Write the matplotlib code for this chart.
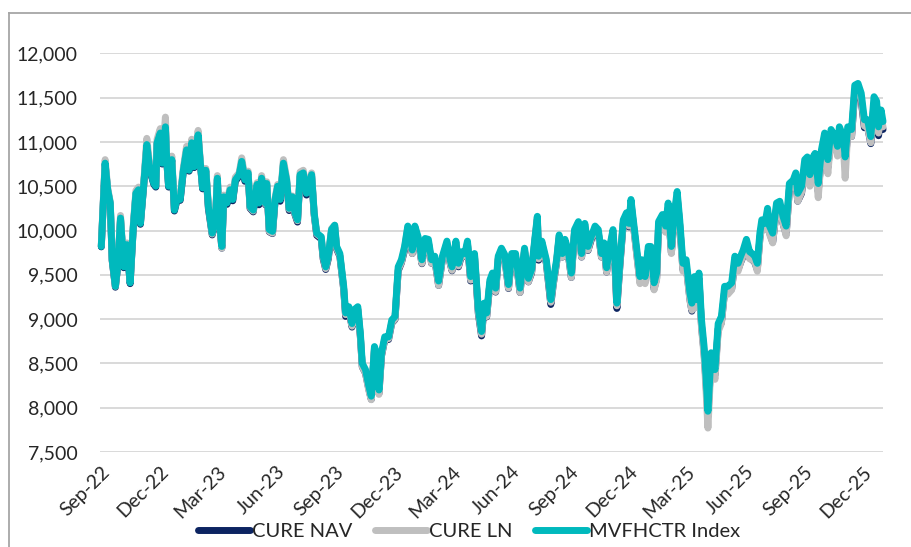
import pandas as pd
import matplotlib
matplotlib.use("Agg")
import matplotlib.pyplot as plt
import matplotlib.dates as mdates
from matplotlib.ticker import FuncFormatter, MultipleLocator
from matplotlib.lines import Line2D

plt.rcParams['font.family'] = ['Lato', 'DejaVu Sans']

days = [0, 6, 10, 14, 17, 22, 26, 30, 35, 40,
        45, 50, 54, 58, 61, 66, 71, 76, 82, 85,
        87, 92, 95, 100, 102, 105, 110, 114, 118, 123,
        128, 133, 137, 141, 145, 151, 154, 158, 163, 167,
        173, 178, 181, 184, 188, 191, 196, 201, 205, 209,
        215, 219, 224, 229, 232, 237, 243, 246, 250, 256,
        258, 262, 267, 271, 275, 279, 284, 289, 293, 298,
        302, 306, 310, 315, 320, 328, 332, 336, 343, 346,
        350, 354, 359, 364, 367, 372, 378, 381, 386, 391,
        395, 400, 404, 407, 412, 417, 421, 426, 429, 433,
        437, 442, 448, 453, 458, 463, 468, 473, 478, 481,
        485, 489, 494, 500, 505, 510, 515, 520, 526, 532,
        539, 544, 547, 553, 557, 562, 567, 571, 576, 582,
        588, 593, 597, 601, 606, 610, 615, 619, 624, 629,
        635, 640, 646, 653, 660, 666, 671, 676, 680, 682,
        687, 694, 701, 705, 710, 714, 719, 723, 728, 733,
        738, 744, 749, 754, 759, 764, 770, 775, 780, 784,
        788, 793, 798, 801, 804, 809, 814, 819, 823, 826,
        829, 840, 843, 848, 853, 857, 862, 866, 869, 875,
        880, 884, 889, 893, 898, 902, 907, 912, 918, 921,
        925, 928, 932, 936, 940, 943, 946, 951, 957, 962,
        967, 972, 977, 983, 988, 993, 997, 1001, 1006, 1011,
        1015, 1019, 1023, 1027, 1030, 1035, 1039, 1042, 1047, 1053,
        1058, 1063, 1068, 1073, 1079, 1083, 1086, 1092, 1097, 1101,
        1105, 1110, 1113, 1118, 1123, 1128, 1133, 1138, 1144, 1148,
        1151, 1157, 1160, 1164, 1170, 1175, 1180, 1185, 1190, 1195,
        1200, 1205, 1209, 1212, 1216, 1219]

index_vals = [9820, 10760, 10460, 10310, 9670, 9370, 9630, 10140, 9590, 9840,
              9410, 10050, 10420, 10460, 10080, 10500, 10970, 10680, 10530, 10500,
              10990, 11100, 10760, 11170, 10800, 10500, 10800, 10230, 10350, 10350,
              10680, 10910, 10680, 10990, 10720, 11080, 10800, 10480, 10680, 10270,
              9970, 10120, 10590, 10120, 9820, 10380, 10310, 10460, 10350, 10570,
              10630, 10780, 10570, 10650, 10270, 10230, 10520, 10310, 10590, 10310,
              10530, 10010, 9990, 10350, 10500, 10350, 10760, 10570, 10250, 10380,
              10200, 10120, 10630, 10650, 10420, 10630, 10200, 9970, 9930, 9710,
              9590, 9710, 10010, 10060, 9820, 9740, 9370, 9070, 9140, 8950,
              9110, 9140, 8840, 8500, 8430, 8250, 8130, 8690, 8620, 8200,
              8620, 8800, 8800, 8990, 9030, 9590, 9670, 9820, 10050, 9970,
              9780, 10050, 9930, 9670, 9910, 9900, 9670, 9710, 9430, 9710,
              9880, 9670, 9590, 9880, 9630, 9760, 9740, 9880, 9480, 9740,
              9110, 8860, 9180, 9070, 9440, 9520, 9350, 9710, 9800, 9730,
              9390, 9740, 9740, 9350, 9800, 9460, 9560, 9900, 10160, 9710,
              9880, 9670, 9220, 9440, 9670, 9950, 9740, 9900, 9780, 9520,
              10010, 10100, 9740, 10080, 9820, 9930, 10050, 10010, 9740, 9860,
              9580, 9820, 10010, 9670, 9180, 9670, 10120, 10200, 10080, 10350,
              10160, 9480, 9670, 9480, 9820, 9820, 9410, 9520, 10100, 10180,
              10050, 10310, 9820, 10160, 10440, 10120, 9630, 9670, 9290, 9180,
              9480, 9220, 9520, 8990, 8690, 8350, 7960, 8620, 8430, 8950,
              9030, 9370, 9370, 9410, 9710, 9630, 9710, 9780, 9900, 9760,
              9740, 9710, 9630, 9970, 10120, 10080, 10250, 10050, 9970, 10310,
              10330, 10160, 10050, 10530, 10570, 10650, 10420, 10500, 10800, 10830,
              10630, 10830, 10870, 10530, 10910, 11100, 10800, 11140, 11060, 10950,
              11170, 11060, 10830, 11170, 11140, 11640, 11660, 11550, 11250, 11250,
              11060, 11510, 11460, 11170, 11360, 11230]

nav_vals = [9815, 10750, 10450, 10300, 9660, 9360, 9620, 10130, 9580, 9830,
            9400, 10040, 10410, 10450, 10070, 10490, 10960, 10670, 10520, 10490,
            10980, 11090, 10750, 11160, 10790, 10490, 10790, 10220, 10340, 10340,
            10670, 10900, 10670, 10980, 10710, 11070, 10790, 10470, 10670, 10250,
            9950, 10100, 10575, 10100, 9800, 10365, 10295, 10445, 10335, 10555,
            10615, 10765, 10555, 10635, 10250, 10210, 10505, 10290, 10575, 10290,
            10510, 9985, 9965, 10330, 10480, 10330, 10740, 10550, 10225, 10360,
            10180, 10095, 10610, 10630, 10400, 10610, 10175, 9945, 9905, 9680,
            9560, 9680, 9985, 10035, 9790, 9710, 9335, 9030, 9105, 8910,
            9075, 9105, 8800, 8460, 8390, 8215, 8095, 8655, 8585, 8160,
            8585, 8765, 8770, 8955, 8995, 9545, 9635, 9780, 10015, 9930,
            9740, 10015, 9895, 9625, 9875, 9865, 9630, 9675, 9380, 9675,
            9845, 9630, 9545, 9845, 9590, 9725, 9705, 9845, 9430, 9700,
            9060, 8810, 9140, 9025, 9405, 9480, 9305, 9675, 9765, 9695,
            9345, 9705, 9705, 9300, 9765, 9420, 9520, 9865, 10125, 9665,
            9845, 9630, 9165, 9400, 9635, 9915, 9700, 9865, 9745, 9470,
            9975, 10065, 9700, 10045, 9775, 9895, 10010, 9975, 9700, 9820,
            9530, 9780, 9970, 9620, 9120, 9630, 10080, 10160, 10040, 10305,
            10115, 9420, 9620, 9420, 9770, 9770, 9340, 9460, 10040, 10120,
            9990, 10250, 9750, 10100, 10380, 10060, 9560, 9610, 9220, 9090,
            9410, 9150, 9460, 8920, 8620, 8280, 7900, 8560, 8370, 8890,
            8960, 9310, 9300, 9340, 9650, 9560, 9640, 9710, 9840, 9690,
            9670, 9640, 9560, 9910, 10055, 10010, 10185, 9980, 9870, 10245,
            10265, 10080, 9960, 10460, 10500, 10580, 10330, 10420, 10720, 10760,
            10550, 10755, 10795, 10440, 10830, 11030, 10710, 11060, 10980, 10870,
            11090, 10980, 10760, 11090, 11060, 11560, 11580, 11470, 11160, 11170,
            10980, 11420, 11370, 11070, 11270, 11140]

ln_vals = [9830, 10800, 10480, 10320, 9680, 9370, 9640, 10170, 9600, 9860,
           9420, 10080, 10450, 10490, 10100, 10520, 11040, 10700, 10550, 10520,
           11030, 11150, 10790, 11280, 10830, 10520, 10840, 10250, 10370, 10380,
           10710, 10950, 10700, 11030, 10750, 11130, 10820, 10490, 10700, 10290,
           9960, 10130, 10620, 10130, 9800, 10400, 10330, 10490, 10370, 10600,
           10650, 10820, 10590, 10670, 10260, 10220, 10540, 10320, 10620, 10300,
           10550, 9990, 9970, 10370, 10520, 10360, 10800, 10590, 10240, 10390,
           10190, 10110, 10660, 10680, 10430, 10650, 10180, 9960, 9920, 9700,
           9570, 9700, 10020, 10060, 9800, 9720, 9340, 9050, 9120, 8920,
           9080, 9120, 8800, 8460, 8390, 8200, 8090, 8680, 8580, 8150,
           8590, 8770, 8780, 8960, 9000, 9560, 9640, 9800, 10040, 9940,
           9740, 10030, 9900, 9630, 9890, 9870, 9630, 9680, 9380, 9680,
           9860, 9630, 9550, 9860, 9600, 9740, 9710, 9860, 9440, 9720,
           9070, 8830, 9150, 9030, 9410, 9500, 9310, 9690, 9780, 9700,
           9350, 9720, 9710, 9300, 9780, 9420, 9530, 9880, 10150, 9680,
           9860, 9640, 9190, 9400, 9640, 9930, 9700, 9880, 9750, 9470,
           9990, 10080, 9700, 10060, 9780, 9910, 10030, 9980, 9700, 9830,
           9530, 9790, 9990, 9630, 9150, 9640, 10100, 10180, 10050, 10330,
           10110, 9400, 9620, 9400, 9770, 9760, 9330, 9440, 10050, 10140,
           9980, 10260, 9740, 10110, 10400, 10050, 9540, 9600, 9200, 9100,
           9400, 9130, 9450, 8900, 8580, 8200, 7770, 8520, 8320, 8860,
           8950, 9300, 9280, 9330, 9650, 9540, 9640, 9720, 9840, 9680,
           9670, 9650, 9540, 9900, 10060, 10010, 10190, 9960, 9860, 10250,
           10270, 10080, 9940, 10470, 10500, 10580, 10330, 10430, 10700, 10760,
           10500, 10750, 10780, 10370, 10850, 11040, 10640, 11080, 10980, 10840,
           11100, 10970, 10590, 11100, 11060, 11590, 11610, 11500, 11180, 11160,
           10990, 11440, 11390, 11100, 11290, 11170]

series_names = ["CURE NAV", "CURE LN", "MVFHCTR Index"]
series_colors = ["#0c2461", "#bfbfbf", "#00b9bd"]

start = pd.Timestamp("2022-09-01")
dates = start + pd.to_timedelta(days, unit="D")
tick_dates = pd.date_range("2022-09-01", "2025-12-01", freq="3MS")

fig = plt.figure(figsize=(9.12, 5.47), dpi=100)
ax = fig.add_axes([100 / 912, 95 / 547, 783 / 912, 398.7 / 547])

for vals, name, col, z in zip([nav_vals, ln_vals, index_vals], series_names, series_colors, [2, 3, 4]):
    ax.plot(dates, vals, color=col, lw=5, label=name, zorder=z,
            solid_joinstyle="round", solid_capstyle="round", clip_on=False)

ax.set_ylim(7500, 12000)
ax.yaxis.set_major_locator(MultipleLocator(500))
ax.yaxis.set_major_formatter(FuncFormatter(lambda v, p: f"{int(v):,}"))
ax.set_xlim(start - pd.Timedelta(days=2), start + pd.Timedelta(days=1219))
ax.set_xticks(tick_dates)
ax.xaxis.set_major_formatter(mdates.DateFormatter("%b-%y"))

ax.grid(axis="y", color="#d9d9d9", lw=1.4, zorder=0)
ax.set_axisbelow(True)
for s in ax.spines.values():
    s.set_visible(False)
ax.tick_params(axis="both", length=0, labelsize=14, labelcolor="#262626")
ax.tick_params(axis="y", pad=16)
ax.tick_params(axis="x", pad=8)
for lab in ax.get_xticklabels():
    lab.set_rotation(45)
    lab.set_ha("right")
    lab.set_rotation_mode("anchor")

leg = ax.legend(loc="center", bbox_to_anchor=(469 / 912, 16 / 547), bbox_transform=fig.transFigure,
                ncol=3, frameon=False, fontsize=14.5, handlelength=2.6, handletextpad=0.1,
                columnspacing=1.1, labelcolor="#262626")
for h in leg.get_lines():
    h.set_linewidth(5)
    h.set_solid_capstyle("round")

# outer chart frame (top and left edges are visible in the image)
fig.add_artist(Line2D([9 / 912, 9 / 912], [0, 1 - 13 / 547], color="#a6a6a6", lw=1.3,
                      transform=fig.transFigure))
fig.add_artist(Line2D([9 / 912, 1], [1 - 13 / 547, 1 - 13 / 547], color="#a6a6a6", lw=1.3,
                      transform=fig.transFigure))

fig.savefig("out.png", dpi=100)
